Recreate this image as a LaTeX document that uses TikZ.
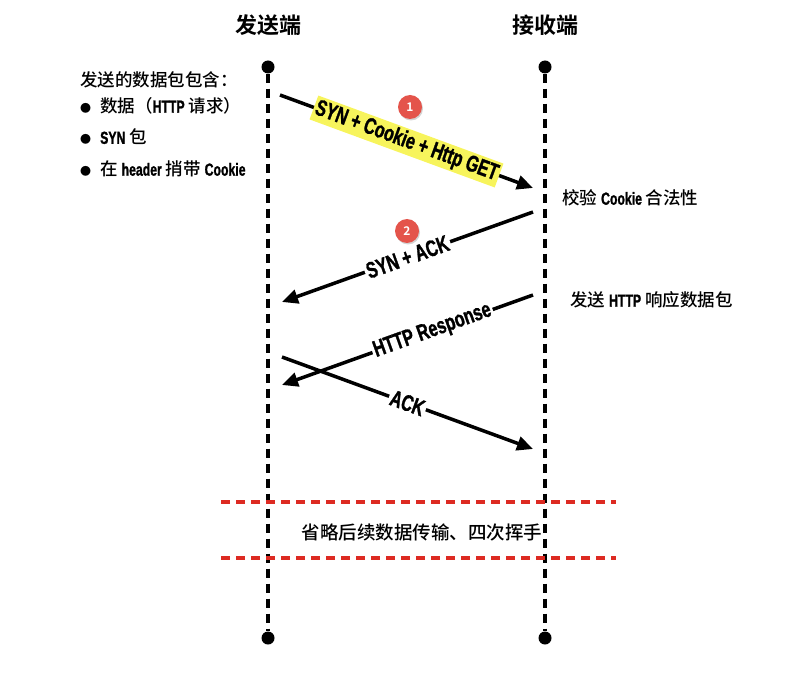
\documentclass[tikz,border=0pt]{standalone}
\usepackage{fontspec}
\setmainfont{Noto Sans CJK SC}[UprightFont=* Medium, BoldFont=* Bold]
\newfontfamily\condfont{Liberation Sans}[FakeStretch=0.7, BoldFeatures={FakeBold=1.2}]
\usetikzlibrary{arrows.meta,shadows}

\definecolor{hlyellow}{HTML}{F7F45C}
\definecolor{badgered}{HTML}{E4544B}
\definecolor{cutred}{HTML}{DD2A22}

\newcommand{\en}[1]{{\condfont\bfseries #1}}
\newcommand{\bulletdot}{{\fontsize{11}{11}\selectfont ●}\hspace{9pt}}

\tikzset{
  lifeline/.style={line width=3.5pt, dash pattern=on 9pt off 6pt},
  enddot/.style={circle, fill=black, inner sep=0pt, minimum size=13pt},
  msg/.style={line width=3.5pt, -{Triangle[length=16pt,width=14pt]}},
  msglabel/.style={sloped, fill=white, inner sep=2pt, font=\fontsize{23}{25}\selectfont},
  badge/.style={circle, fill=badgered, text=white, inner sep=0pt, minimum size=24pt,
    font=\fontsize{12}{12}\selectfont\bfseries,
    drop shadow={opacity=0.35, shadow xshift=1pt, shadow yshift=-1.5pt}},
  cutline/.style={cutred, line width=3.5pt, dash pattern=on 9pt off 6pt},
  note/.style={anchor=west, inner sep=0pt, font=\fontsize{17.5}{20}\selectfont},
}

\begin{document}
\begin{tikzpicture}[x=1pt, y=-1pt]
  \useasboundingbox (0,0) rectangle (805,676);

  % titles
  \begin{scope}[every node/.style={font=\fontsize{22}{24}\selectfont\bfseries}]
    \node (sendTitle) at (268,25) {发送端};
    \node (recvTitle) at (545,25) {接收端};
  \end{scope}

  % lifelines
  \begin{scope}[every node/.style={enddot}]
    \node (sendTop) at (268,67)  {};
    \node (sendBot) at (268,638) {};
    \node (recvTop) at (545,67)  {};
    \node (recvBot) at (545,638) {};
  \end{scope}
  \draw[lifeline] (sendTop) -- (sendBot);
  \draw[lifeline] (recvTop) -- (recvBot);

  % message ends
  \coordinate (synOut)  at (280,95);
  \coordinate (synIn)   at (533,188);
  \coordinate (ackOut)  at (533,212);
  \coordinate (ackIn)   at (282,302);
  \coordinate (respOut) at (533,295);
  \coordinate (respIn)  at (282,385);
  \coordinate (finOut)  at (282,357);
  \coordinate (finIn)   at (533,449);

  \begin{scope}[every edge/.style={draw, msg}]
    \path (synOut)  edge node[msglabel, fill=hlyellow] {\en{SYN + Cookie + Http GET}} (synIn);
    \path (ackOut)  edge node[msglabel] {\en{SYN + ACK}} (ackIn);
    \path (respOut) edge node[msglabel, pos=0.4] {\en{HTTP Response}} (respIn);
    \path (finOut)  edge node[msglabel] {\en{ACK}} (finIn);
  \end{scope}

  \node[badge] (badge1) at (410,107) {1};
  \node[badge] (badge2) at (407,231) {2};

  % notes
  \node[note] (pktHead) at (80,80)  {发送的数据包包含：};
  \node[note] (pktA)    at (80,106) {\bulletdot 数据（\en{HTTP} 请求）};
  \node[note] (pktB)    at (80,137) {\bulletdot \en{SYN} 包};
  \node[note] (pktC)    at (80,169) {\bulletdot 在 \en{header} 捎带 \en{Cookie}};
  \node[note] (checkNote) at (562,198) {校验 \en{Cookie} 合法性};
  \node[note] (respNote)  at (570,300) {发送 \en{HTTP} 响应数据包};

  % omitted part
  \coordinate (cutAL) at (221,502);
  \coordinate (cutAR) at (616,502);
  \coordinate (cutBL) at (221,558);
  \coordinate (cutBR) at (616,558);
  \draw[cutline] (cutAL) -- (cutAR);
  \draw[cutline] (cutBL) -- (cutBR);
  \node[font=\fontsize{18.5}{20}\selectfont] (omitNote) at (422,532) {省略后续数据传输、四次挥手};

\end{tikzpicture}
\end{document}
